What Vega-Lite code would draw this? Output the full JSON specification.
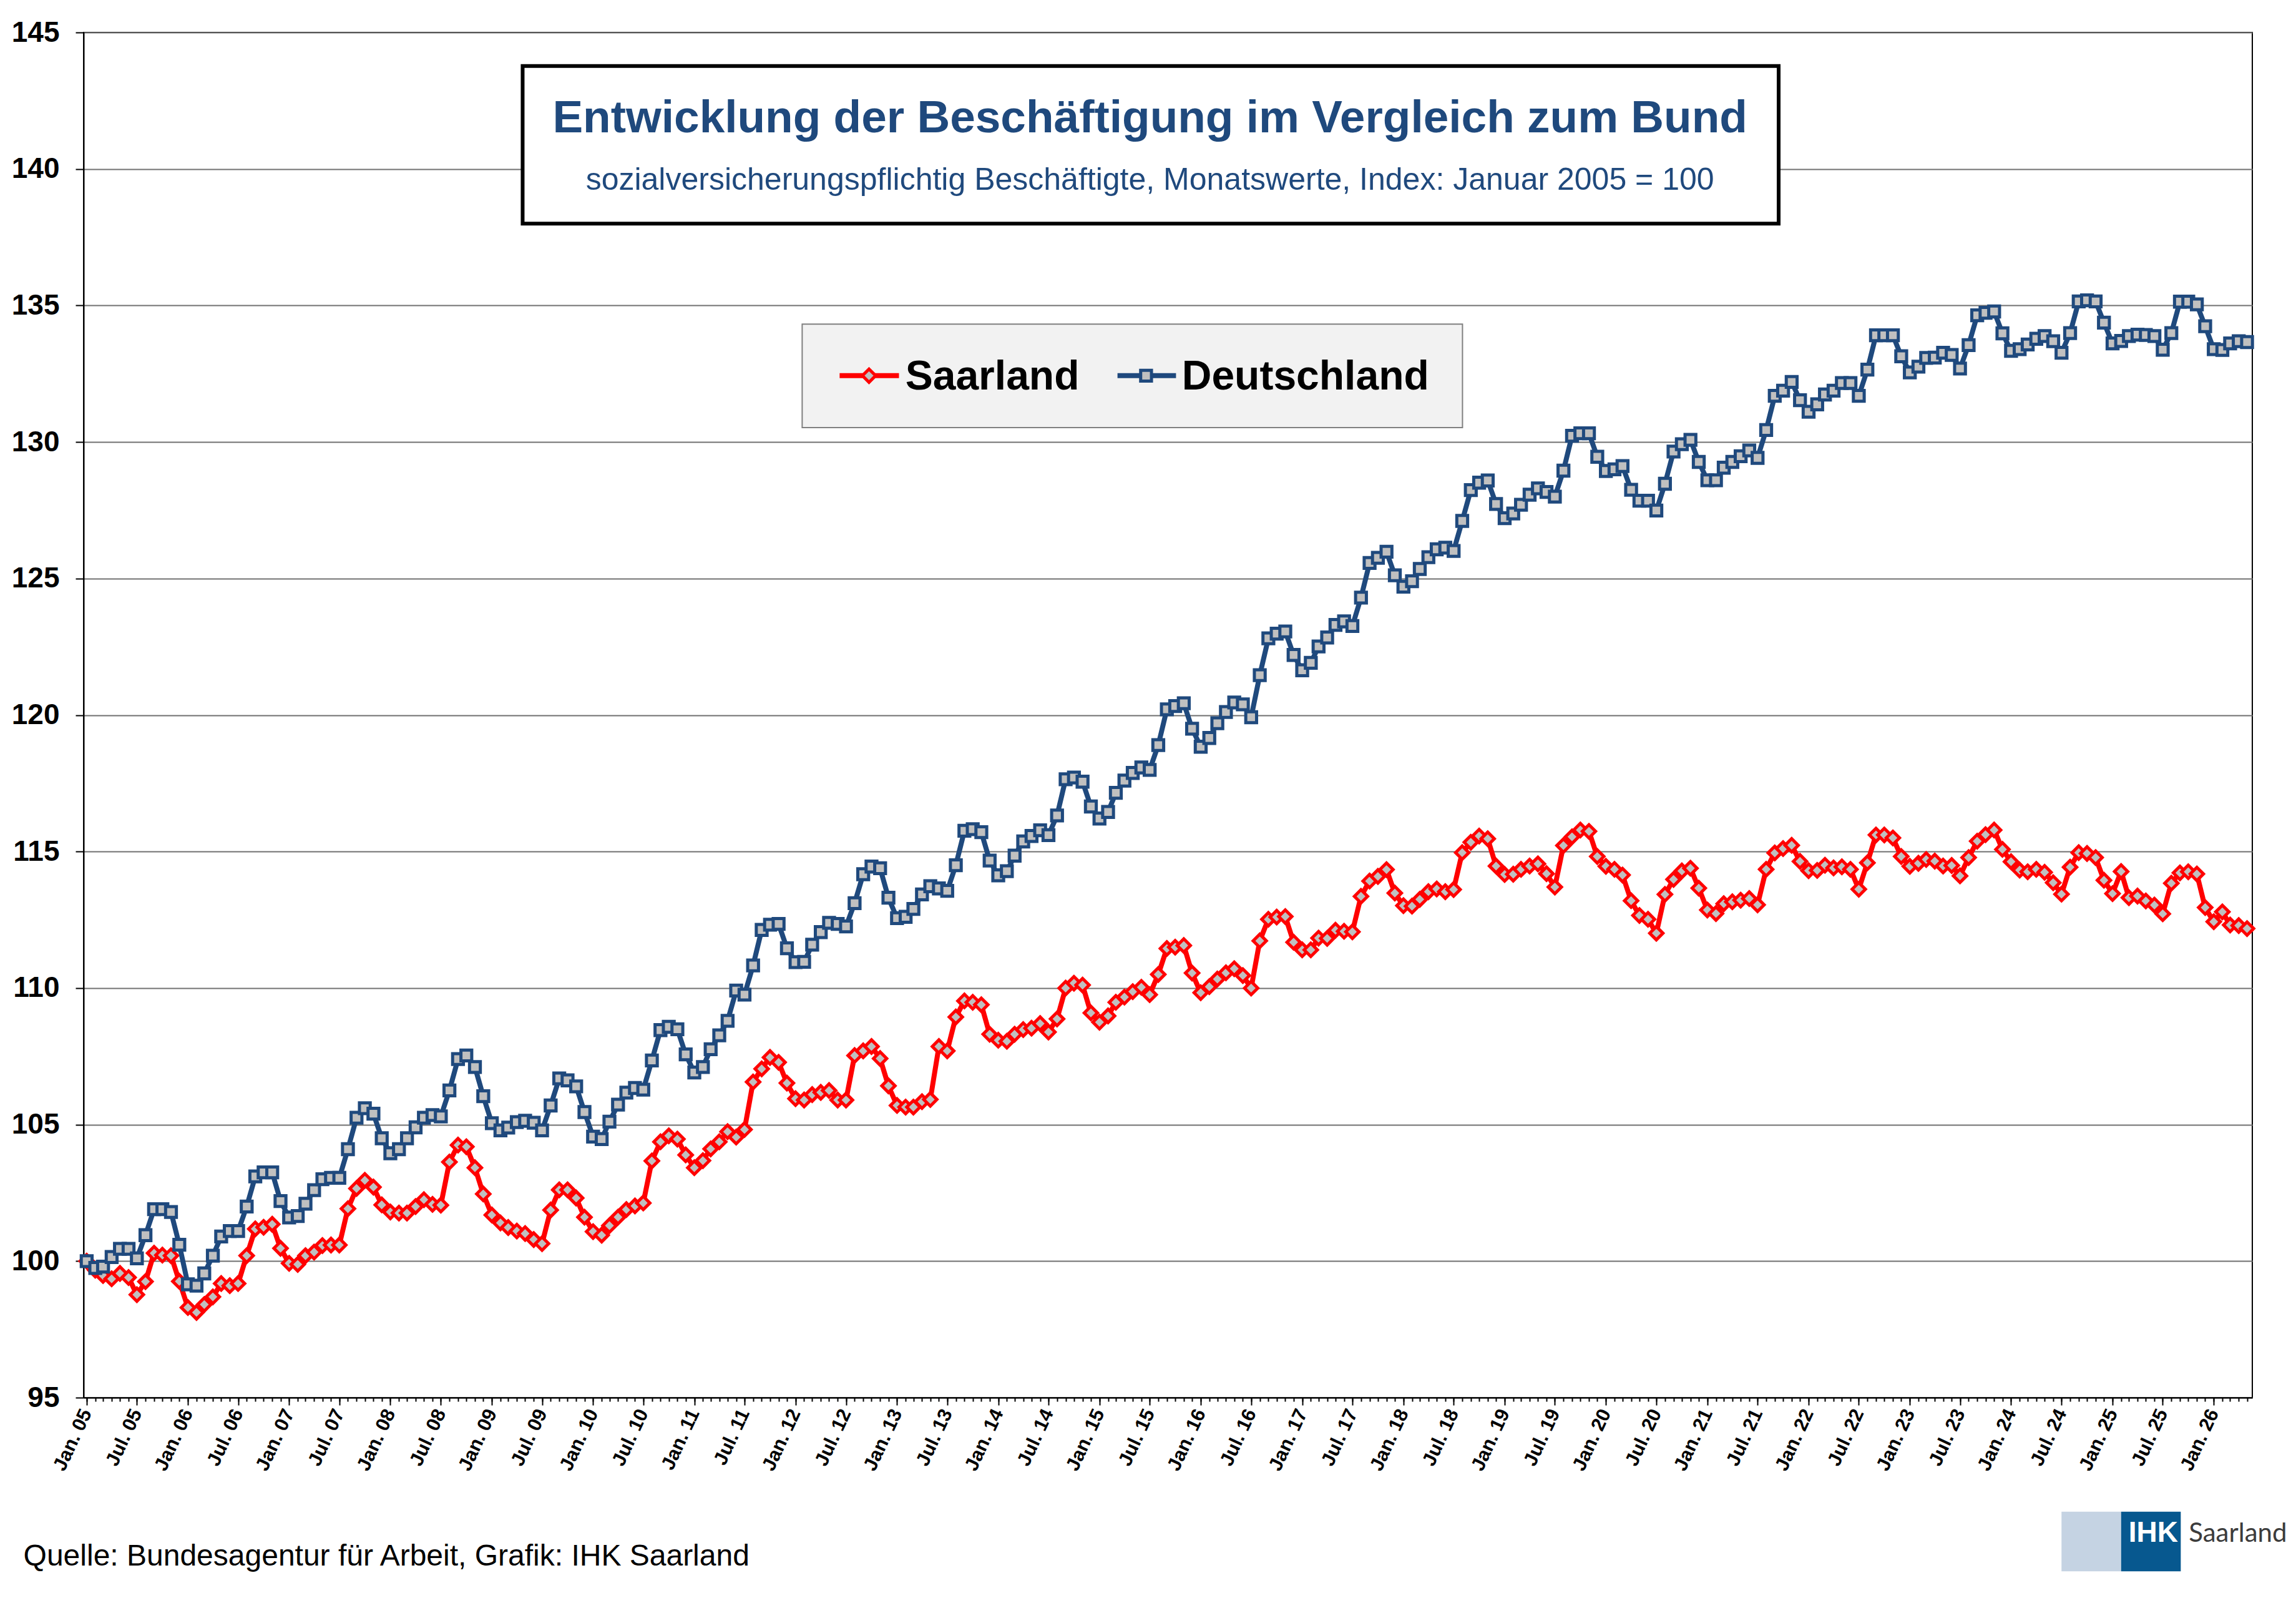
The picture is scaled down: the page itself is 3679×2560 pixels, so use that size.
{
  "$schema": "https://vega.github.io/schema/vega-lite/v6.json",
  "width": 3475,
  "height": 2187,
  "autosize": {"type": "none"},
  "padding": {"left": 134, "top": 52, "right": 70, "bottom": 321},
  "background": "white",
  "config": {
    "view": {"stroke": "#000", "strokeWidth": 2},
    "font": "Liberation Sans"
  },
  "layer": [
    {
      "data": {
        "format": {"parse": {"monat": "date:'%Y-%m'"}},
        "values": [
          {"monat": "2005-01", "index": 100.0}, {"monat": "2005-02", "index": 99.67}, {"monat": "2005-03", "index": 99.47}, {"monat": "2005-04", "index": 99.35}, {"monat": "2005-05", "index": 99.55}, {"monat": "2005-06", "index": 99.4}, {"monat": "2005-07", "index": 98.77}, {"monat": "2005-08", "index": 99.25}, {"monat": "2005-09", "index": 100.29}, {"monat": "2005-10", "index": 100.22}, {"monat": "2005-11", "index": 100.2}, {"monat": "2005-12", "index": 99.26},
          {"monat": "2006-01", "index": 98.3}, {"monat": "2006-02", "index": 98.12}, {"monat": "2006-03", "index": 98.41}, {"monat": "2006-04", "index": 98.69}, {"monat": "2006-05", "index": 99.18}, {"monat": "2006-06", "index": 99.1}, {"monat": "2006-07", "index": 99.18}, {"monat": "2006-08", "index": 100.2}, {"monat": "2006-09", "index": 101.18}, {"monat": "2006-10", "index": 101.24}, {"monat": "2006-11", "index": 101.35}, {"monat": "2006-12", "index": 100.47},
          {"monat": "2007-01", "index": 99.92}, {"monat": "2007-02", "index": 99.88}, {"monat": "2007-03", "index": 100.2}, {"monat": "2007-04", "index": 100.33}, {"monat": "2007-05", "index": 100.57}, {"monat": "2007-06", "index": 100.59}, {"monat": "2007-07", "index": 100.59}, {"monat": "2007-08", "index": 101.92}, {"monat": "2007-09", "index": 102.66}, {"monat": "2007-10", "index": 102.96}, {"monat": "2007-11", "index": 102.71}, {"monat": "2007-12", "index": 102.06},
          {"monat": "2008-01", "index": 101.8}, {"monat": "2008-02", "index": 101.76}, {"monat": "2008-03", "index": 101.76}, {"monat": "2008-04", "index": 102.0}, {"monat": "2008-05", "index": 102.25}, {"monat": "2008-06", "index": 102.08}, {"monat": "2008-07", "index": 102.05}, {"monat": "2008-08", "index": 103.63}, {"monat": "2008-09", "index": 104.25}, {"monat": "2008-10", "index": 104.19}, {"monat": "2008-11", "index": 103.42}, {"monat": "2008-12", "index": 102.46},
          {"monat": "2009-01", "index": 101.69}, {"monat": "2009-02", "index": 101.4}, {"monat": "2009-03", "index": 101.23}, {"monat": "2009-04", "index": 101.1}, {"monat": "2009-05", "index": 101.01}, {"monat": "2009-06", "index": 100.79}, {"monat": "2009-07", "index": 100.64}, {"monat": "2009-08", "index": 101.87}, {"monat": "2009-09", "index": 102.61}, {"monat": "2009-10", "index": 102.61}, {"monat": "2009-11", "index": 102.31}, {"monat": "2009-12", "index": 101.61},
          {"monat": "2010-01", "index": 101.08}, {"monat": "2010-02", "index": 100.95}, {"monat": "2010-03", "index": 101.3}, {"monat": "2010-04", "index": 101.61}, {"monat": "2010-05", "index": 101.89}, {"monat": "2010-06", "index": 102.02}, {"monat": "2010-07", "index": 102.13}, {"monat": "2010-08", "index": 103.67}, {"monat": "2010-09", "index": 104.37}, {"monat": "2010-10", "index": 104.59}, {"monat": "2010-11", "index": 104.47}, {"monat": "2010-12", "index": 103.89},
          {"monat": "2011-01", "index": 103.42}, {"monat": "2011-02", "index": 103.68}, {"monat": "2011-03", "index": 104.11}, {"monat": "2011-04", "index": 104.37}, {"monat": "2011-05", "index": 104.74}, {"monat": "2011-06", "index": 104.54}, {"monat": "2011-07", "index": 104.82}, {"monat": "2011-08", "index": 106.56}, {"monat": "2011-09", "index": 107.04}, {"monat": "2011-10", "index": 107.46}, {"monat": "2011-11", "index": 107.28}, {"monat": "2011-12", "index": 106.52},
          {"monat": "2012-01", "index": 105.95}, {"monat": "2012-02", "index": 105.9}, {"monat": "2012-03", "index": 106.1}, {"monat": "2012-04", "index": 106.18}, {"monat": "2012-05", "index": 106.25}, {"monat": "2012-06", "index": 105.9}, {"monat": "2012-07", "index": 105.9}, {"monat": "2012-08", "index": 107.53}, {"monat": "2012-09", "index": 107.7}, {"monat": "2012-10", "index": 107.86}, {"monat": "2012-11", "index": 107.42}, {"monat": "2012-12", "index": 106.42},
          {"monat": "2013-01", "index": 105.7}, {"monat": "2013-02", "index": 105.64}, {"monat": "2013-03", "index": 105.64}, {"monat": "2013-04", "index": 105.84}, {"monat": "2013-05", "index": 105.92}, {"monat": "2013-06", "index": 107.86}, {"monat": "2013-07", "index": 107.7}, {"monat": "2013-08", "index": 108.94}, {"monat": "2013-09", "index": 109.53}, {"monat": "2013-10", "index": 109.48}, {"monat": "2013-11", "index": 109.39}, {"monat": "2013-12", "index": 108.31},
          {"monat": "2014-01", "index": 108.09}, {"monat": "2014-02", "index": 108.05}, {"monat": "2014-03", "index": 108.31}, {"monat": "2014-04", "index": 108.48}, {"monat": "2014-05", "index": 108.53}, {"monat": "2014-06", "index": 108.7}, {"monat": "2014-07", "index": 108.39}, {"monat": "2014-08", "index": 108.87}, {"monat": "2014-09", "index": 110.0}, {"monat": "2014-10", "index": 110.18}, {"monat": "2014-11", "index": 110.11}, {"monat": "2014-12", "index": 109.09},
          {"monat": "2015-01", "index": 108.75}, {"monat": "2015-02", "index": 108.98}, {"monat": "2015-03", "index": 109.48}, {"monat": "2015-04", "index": 109.67}, {"monat": "2015-05", "index": 109.87}, {"monat": "2015-06", "index": 110.03}, {"monat": "2015-07", "index": 109.76}, {"monat": "2015-08", "index": 110.5}, {"monat": "2015-09", "index": 111.45}, {"monat": "2015-10", "index": 111.5}, {"monat": "2015-11", "index": 111.56}, {"monat": "2015-12", "index": 110.55},
          {"monat": "2016-01", "index": 109.83}, {"monat": "2016-02", "index": 110.05}, {"monat": "2016-03", "index": 110.33}, {"monat": "2016-04", "index": 110.56}, {"monat": "2016-05", "index": 110.71}, {"monat": "2016-06", "index": 110.46}, {"monat": "2016-07", "index": 110.0}, {"monat": "2016-08", "index": 111.73}, {"monat": "2016-09", "index": 112.52}, {"monat": "2016-10", "index": 112.6}, {"monat": "2016-11", "index": 112.62}, {"monat": "2016-12", "index": 111.68},
          {"monat": "2017-01", "index": 111.4}, {"monat": "2017-02", "index": 111.4}, {"monat": "2017-03", "index": 111.83}, {"monat": "2017-04", "index": 111.82}, {"monat": "2017-05", "index": 112.12}, {"monat": "2017-06", "index": 112.08}, {"monat": "2017-07", "index": 112.06}, {"monat": "2017-08", "index": 113.36}, {"monat": "2017-09", "index": 113.92}, {"monat": "2017-10", "index": 114.09}, {"monat": "2017-11", "index": 114.34}, {"monat": "2017-12", "index": 113.48},
          {"monat": "2018-01", "index": 113.02}, {"monat": "2018-02", "index": 113.0}, {"monat": "2018-03", "index": 113.25}, {"monat": "2018-04", "index": 113.53}, {"monat": "2018-05", "index": 113.63}, {"monat": "2018-06", "index": 113.53}, {"monat": "2018-07", "index": 113.61}, {"monat": "2018-08", "index": 114.96}, {"monat": "2018-09", "index": 115.34}, {"monat": "2018-10", "index": 115.57}, {"monat": "2018-11", "index": 115.47}, {"monat": "2018-12", "index": 114.47},
          {"monat": "2019-01", "index": 114.16}, {"monat": "2019-02", "index": 114.17}, {"monat": "2019-03", "index": 114.35}, {"monat": "2019-04", "index": 114.47}, {"monat": "2019-05", "index": 114.55}, {"monat": "2019-06", "index": 114.19}, {"monat": "2019-07", "index": 113.7}, {"monat": "2019-08", "index": 115.22}, {"monat": "2019-09", "index": 115.54}, {"monat": "2019-10", "index": 115.79}, {"monat": "2019-11", "index": 115.74}, {"monat": "2019-12", "index": 114.82},
          {"monat": "2020-01", "index": 114.46}, {"monat": "2020-02", "index": 114.35}, {"monat": "2020-03", "index": 114.14}, {"monat": "2020-04", "index": 113.2}, {"monat": "2020-05", "index": 112.66}, {"monat": "2020-06", "index": 112.52}, {"monat": "2020-07", "index": 112.01}, {"monat": "2020-08", "index": 113.43}, {"monat": "2020-09", "index": 113.98}, {"monat": "2020-10", "index": 114.29}, {"monat": "2020-11", "index": 114.39}, {"monat": "2020-12", "index": 113.66},
          {"monat": "2021-01", "index": 112.86}, {"monat": "2021-02", "index": 112.73}, {"monat": "2021-03", "index": 113.09}, {"monat": "2021-04", "index": 113.16}, {"monat": "2021-05", "index": 113.22}, {"monat": "2021-06", "index": 113.28}, {"monat": "2021-07", "index": 113.05}, {"monat": "2021-08", "index": 114.35}, {"monat": "2021-09", "index": 114.95}, {"monat": "2021-10", "index": 115.11}, {"monat": "2021-11", "index": 115.23}, {"monat": "2021-12", "index": 114.64},
          {"monat": "2022-01", "index": 114.3}, {"monat": "2022-02", "index": 114.31}, {"monat": "2022-03", "index": 114.5}, {"monat": "2022-04", "index": 114.4}, {"monat": "2022-05", "index": 114.44}, {"monat": "2022-06", "index": 114.35}, {"monat": "2022-07", "index": 113.62}, {"monat": "2022-08", "index": 114.59}, {"monat": "2022-09", "index": 115.61}, {"monat": "2022-10", "index": 115.61}, {"monat": "2022-11", "index": 115.5}, {"monat": "2022-12", "index": 114.82},
          {"monat": "2023-01", "index": 114.46}, {"monat": "2023-02", "index": 114.57}, {"monat": "2023-03", "index": 114.71}, {"monat": "2023-04", "index": 114.65}, {"monat": "2023-05", "index": 114.47}, {"monat": "2023-06", "index": 114.49}, {"monat": "2023-07", "index": 114.11}, {"monat": "2023-08", "index": 114.78}, {"monat": "2023-09", "index": 115.38}, {"monat": "2023-10", "index": 115.62}, {"monat": "2023-11", "index": 115.79}, {"monat": "2023-12", "index": 115.08},
          {"monat": "2024-01", "index": 114.63}, {"monat": "2024-02", "index": 114.32}, {"monat": "2024-03", "index": 114.26}, {"monat": "2024-04", "index": 114.35}, {"monat": "2024-05", "index": 114.24}, {"monat": "2024-06", "index": 113.86}, {"monat": "2024-07", "index": 113.44}, {"monat": "2024-08", "index": 114.43}, {"monat": "2024-09", "index": 114.96}, {"monat": "2024-10", "index": 114.93}, {"monat": "2024-11", "index": 114.78}, {"monat": "2024-12", "index": 113.95},
          {"monat": "2025-01", "index": 113.46}, {"monat": "2025-02", "index": 114.27}, {"monat": "2025-03", "index": 113.31}, {"monat": "2025-04", "index": 113.37}, {"monat": "2025-05", "index": 113.19}, {"monat": "2025-06", "index": 113.04}, {"monat": "2025-07", "index": 112.72}, {"monat": "2025-08", "index": 113.84}, {"monat": "2025-09", "index": 114.22}, {"monat": "2025-10", "index": 114.26}, {"monat": "2025-11", "index": 114.18}, {"monat": "2025-12", "index": 112.95},
          {"monat": "2026-01", "index": 112.43}, {"monat": "2026-02", "index": 112.79}, {"monat": "2026-03", "index": 112.31}, {"monat": "2026-04", "index": 112.29}, {"monat": "2026-05", "index": 112.18}
        ]
      },
      "layer": [
        {
          "mark": {"type": "line", "color": "#FF0000", "strokeWidth": 8},
          "encoding": {
            "x": {
              "field": "monat", "type": "temporal",
              "scale": {"domain": [{"year": 2004, "month": 12, "date": 21}, {"year": 2026, "month": 5, "date": 20}], "nice": false},
              "axis": {
                "orient": "bottom", "title": null, "grid": false,
                "tickCount": {"interval": "month", "step": 6},
                "labelExpr": "timeFormat(datum.value, '%b') + '. ' + timeFormat(datum.value, '%y')",
                "labelAngle": -65, "labelAlign": "right", "labelBaseline": "middle",
                "labelFont": "Liberation Sans", "labelFontWeight": "bold", "labelFontSize": 31, "labelColor": "#000",
                "labelPadding": 8, "labelOverlap": false, "labelFlush": false, "labelBound": false,
                "tickSize": 12, "tickColor": "#000", "tickWidth": 2,
                "domainColor": "#000", "domainWidth": 2
              }
            },
            "y": {
              "field": "index", "type": "quantitative",
              "scale": {"domain": [95, 145], "nice": false, "zero": false},
              "axis": {
                "title": null, "values": [95, 100, 105, 110, 115, 120, 125, 130, 135, 140, 145],
                "grid": true, "gridColor": "#707070", "gridWidth": 2,
                "labelFont": "Liberation Sans", "labelFontWeight": "bold", "labelFontSize": 46, "labelColor": "#000",
                "labelPadding": 26, "tickSize": 13, "tickColor": "#000", "tickWidth": 2,
                "domainColor": "#000", "domainWidth": 2
              }
            }
          }
        },
        {
          "mark": {"type": "point", "shape": "diamond", "filled": true, "fill": "#C0C0C0", "stroke": "#FF0000", "strokeWidth": 5, "size": 450, "opacity": 1},
          "encoding": {
            "x": {
              "field": "monat", "type": "temporal",
              "axis": {
                "orient": "bottom", "title": null, "grid": false, "labels": false, "domain": false,
                "tickCount": {"interval": "month", "step": 1},
                "tickSize": 6, "tickColor": "#000", "tickWidth": 2
              }
            },
            "y": {"field": "index", "type": "quantitative"}
          }
        }
      ],
      "resolve": {"axis": {"x": "independent"}}
    },
    {
      "data": {
        "format": {"parse": {"monat": "date:'%Y-%m'"}},
        "values": [
          {"monat": "2005-01", "index": 100.0}, {"monat": "2005-02", "index": 99.75}, {"monat": "2005-03", "index": 99.8}, {"monat": "2005-04", "index": 100.15}, {"monat": "2005-05", "index": 100.45}, {"monat": "2005-06", "index": 100.45}, {"monat": "2005-07", "index": 100.1}, {"monat": "2005-08", "index": 100.95}, {"monat": "2005-09", "index": 101.9}, {"monat": "2005-10", "index": 101.9}, {"monat": "2005-11", "index": 101.8}, {"monat": "2005-12", "index": 100.6},
          {"monat": "2006-01", "index": 99.15}, {"monat": "2006-02", "index": 99.1}, {"monat": "2006-03", "index": 99.55}, {"monat": "2006-04", "index": 100.2}, {"monat": "2006-05", "index": 100.9}, {"monat": "2006-06", "index": 101.1}, {"monat": "2006-07", "index": 101.1}, {"monat": "2006-08", "index": 102.0}, {"monat": "2006-09", "index": 103.1}, {"monat": "2006-10", "index": 103.25}, {"monat": "2006-11", "index": 103.25}, {"monat": "2006-12", "index": 102.2},
          {"monat": "2007-01", "index": 101.6}, {"monat": "2007-02", "index": 101.65}, {"monat": "2007-03", "index": 102.1}, {"monat": "2007-04", "index": 102.6}, {"monat": "2007-05", "index": 103.0}, {"monat": "2007-06", "index": 103.05}, {"monat": "2007-07", "index": 103.05}, {"monat": "2007-08", "index": 104.1}, {"monat": "2007-09", "index": 105.25}, {"monat": "2007-10", "index": 105.6}, {"monat": "2007-11", "index": 105.4}, {"monat": "2007-12", "index": 104.5},
          {"monat": "2008-01", "index": 103.95}, {"monat": "2008-02", "index": 104.1}, {"monat": "2008-03", "index": 104.5}, {"monat": "2008-04", "index": 104.9}, {"monat": "2008-05", "index": 105.25}, {"monat": "2008-06", "index": 105.35}, {"monat": "2008-07", "index": 105.3}, {"monat": "2008-08", "index": 106.25}, {"monat": "2008-09", "index": 107.4}, {"monat": "2008-10", "index": 107.53}, {"monat": "2008-11", "index": 107.11}, {"monat": "2008-12", "index": 106.04},
          {"monat": "2009-01", "index": 105.05}, {"monat": "2009-02", "index": 104.79}, {"monat": "2009-03", "index": 104.89}, {"monat": "2009-04", "index": 105.09}, {"monat": "2009-05", "index": 105.14}, {"monat": "2009-06", "index": 105.07}, {"monat": "2009-07", "index": 104.79}, {"monat": "2009-08", "index": 105.7}, {"monat": "2009-09", "index": 106.69}, {"monat": "2009-10", "index": 106.62}, {"monat": "2009-11", "index": 106.4}, {"monat": "2009-12", "index": 105.46},
          {"monat": "2010-01", "index": 104.56}, {"monat": "2010-02", "index": 104.47}, {"monat": "2010-03", "index": 105.11}, {"monat": "2010-04", "index": 105.73}, {"monat": "2010-05", "index": 106.17}, {"monat": "2010-06", "index": 106.34}, {"monat": "2010-07", "index": 106.28}, {"monat": "2010-08", "index": 107.35}, {"monat": "2010-09", "index": 108.46}, {"monat": "2010-10", "index": 108.58}, {"monat": "2010-11", "index": 108.49}, {"monat": "2010-12", "index": 107.57},
          {"monat": "2011-01", "index": 106.91}, {"monat": "2011-02", "index": 107.11}, {"monat": "2011-03", "index": 107.76}, {"monat": "2011-04", "index": 108.27}, {"monat": "2011-05", "index": 108.8}, {"monat": "2011-06", "index": 109.91}, {"monat": "2011-07", "index": 109.76}, {"monat": "2011-08", "index": 110.83}, {"monat": "2011-09", "index": 112.13}, {"monat": "2011-10", "index": 112.32}, {"monat": "2011-11", "index": 112.35}, {"monat": "2011-12", "index": 111.46},
          {"monat": "2012-01", "index": 110.95}, {"monat": "2012-02", "index": 110.96}, {"monat": "2012-03", "index": 111.59}, {"monat": "2012-04", "index": 112.05}, {"monat": "2012-05", "index": 112.39}, {"monat": "2012-06", "index": 112.35}, {"monat": "2012-07", "index": 112.26}, {"monat": "2012-08", "index": 113.11}, {"monat": "2012-09", "index": 114.17}, {"monat": "2012-10", "index": 114.45}, {"monat": "2012-11", "index": 114.39}, {"monat": "2012-12", "index": 113.31},
          {"monat": "2013-01", "index": 112.56}, {"monat": "2013-02", "index": 112.61}, {"monat": "2013-03", "index": 112.9}, {"monat": "2013-04", "index": 113.43}, {"monat": "2013-05", "index": 113.73}, {"monat": "2013-06", "index": 113.65}, {"monat": "2013-07", "index": 113.56}, {"monat": "2013-08", "index": 114.5}, {"monat": "2013-09", "index": 115.76}, {"monat": "2013-10", "index": 115.82}, {"monat": "2013-11", "index": 115.71}, {"monat": "2013-12", "index": 114.67},
          {"monat": "2014-01", "index": 114.13}, {"monat": "2014-02", "index": 114.28}, {"monat": "2014-03", "index": 114.85}, {"monat": "2014-04", "index": 115.37}, {"monat": "2014-05", "index": 115.57}, {"monat": "2014-06", "index": 115.78}, {"monat": "2014-07", "index": 115.6}, {"monat": "2014-08", "index": 116.32}, {"monat": "2014-09", "index": 117.65}, {"monat": "2014-10", "index": 117.71}, {"monat": "2014-11", "index": 117.56}, {"monat": "2014-12", "index": 116.65},
          {"monat": "2015-01", "index": 116.21}, {"monat": "2015-02", "index": 116.45}, {"monat": "2015-03", "index": 117.15}, {"monat": "2015-04", "index": 117.6}, {"monat": "2015-05", "index": 117.88}, {"monat": "2015-06", "index": 118.08}, {"monat": "2015-07", "index": 117.99}, {"monat": "2015-08", "index": 118.9}, {"monat": "2015-09", "index": 120.21}, {"monat": "2015-10", "index": 120.33}, {"monat": "2015-11", "index": 120.43}, {"monat": "2015-12", "index": 119.5},
          {"monat": "2016-01", "index": 118.84}, {"monat": "2016-02", "index": 119.16}, {"monat": "2016-03", "index": 119.7}, {"monat": "2016-04", "index": 120.11}, {"monat": "2016-05", "index": 120.46}, {"monat": "2016-06", "index": 120.39}, {"monat": "2016-07", "index": 119.92}, {"monat": "2016-08", "index": 121.46}, {"monat": "2016-09", "index": 122.81}, {"monat": "2016-10", "index": 122.98}, {"monat": "2016-11", "index": 123.06}, {"monat": "2016-12", "index": 122.2},
          {"monat": "2017-01", "index": 121.64}, {"monat": "2017-02", "index": 121.91}, {"monat": "2017-03", "index": 122.51}, {"monat": "2017-04", "index": 122.84}, {"monat": "2017-05", "index": 123.3}, {"monat": "2017-06", "index": 123.43}, {"monat": "2017-07", "index": 123.26}, {"monat": "2017-08", "index": 124.3}, {"monat": "2017-09", "index": 125.57}, {"monat": "2017-10", "index": 125.76}, {"monat": "2017-11", "index": 125.98}, {"monat": "2017-12", "index": 125.12},
          {"monat": "2018-01", "index": 124.7}, {"monat": "2018-02", "index": 124.9}, {"monat": "2018-03", "index": 125.35}, {"monat": "2018-04", "index": 125.78}, {"monat": "2018-05", "index": 126.07}, {"monat": "2018-06", "index": 126.13}, {"monat": "2018-07", "index": 126.01}, {"monat": "2018-08", "index": 127.11}, {"monat": "2018-09", "index": 128.24}, {"monat": "2018-10", "index": 128.51}, {"monat": "2018-11", "index": 128.59}, {"monat": "2018-12", "index": 127.73},
          {"monat": "2019-01", "index": 127.21}, {"monat": "2019-02", "index": 127.38}, {"monat": "2019-03", "index": 127.7}, {"monat": "2019-04", "index": 128.07}, {"monat": "2019-05", "index": 128.3}, {"monat": "2019-06", "index": 128.17}, {"monat": "2019-07", "index": 128.0}, {"monat": "2019-08", "index": 128.95}, {"monat": "2019-09", "index": 130.23}, {"monat": "2019-10", "index": 130.32}, {"monat": "2019-11", "index": 130.32}, {"monat": "2019-12", "index": 129.46},
          {"monat": "2020-01", "index": 128.94}, {"monat": "2020-02", "index": 129.0}, {"monat": "2020-03", "index": 129.12}, {"monat": "2020-04", "index": 128.25}, {"monat": "2020-05", "index": 127.85}, {"monat": "2020-06", "index": 127.85}, {"monat": "2020-07", "index": 127.49}, {"monat": "2020-08", "index": 128.47}, {"monat": "2020-09", "index": 129.65}, {"monat": "2020-10", "index": 129.92}, {"monat": "2020-11", "index": 130.08}, {"monat": "2020-12", "index": 129.27},
          {"monat": "2021-01", "index": 128.6}, {"monat": "2021-02", "index": 128.6}, {"monat": "2021-03", "index": 129.06}, {"monat": "2021-04", "index": 129.27}, {"monat": "2021-05", "index": 129.48}, {"monat": "2021-06", "index": 129.69}, {"monat": "2021-07", "index": 129.42}, {"monat": "2021-08", "index": 130.44}, {"monat": "2021-09", "index": 131.69}, {"monat": "2021-10", "index": 131.88}, {"monat": "2021-11", "index": 132.2}, {"monat": "2021-12", "index": 131.53},
          {"monat": "2022-01", "index": 131.11}, {"monat": "2022-02", "index": 131.38}, {"monat": "2022-03", "index": 131.74}, {"monat": "2022-04", "index": 131.88}, {"monat": "2022-05", "index": 132.16}, {"monat": "2022-06", "index": 132.16}, {"monat": "2022-07", "index": 131.69}, {"monat": "2022-08", "index": 132.65}, {"monat": "2022-09", "index": 133.91}, {"monat": "2022-10", "index": 133.91}, {"monat": "2022-11", "index": 133.91}, {"monat": "2022-12", "index": 133.14},
          {"monat": "2023-01", "index": 132.55}, {"monat": "2023-02", "index": 132.76}, {"monat": "2023-03", "index": 133.08}, {"monat": "2023-04", "index": 133.09}, {"monat": "2023-05", "index": 133.27}, {"monat": "2023-06", "index": 133.19}, {"monat": "2023-07", "index": 132.69}, {"monat": "2023-08", "index": 133.55}, {"monat": "2023-09", "index": 134.64}, {"monat": "2023-10", "index": 134.73}, {"monat": "2023-11", "index": 134.78}, {"monat": "2023-12", "index": 133.98},
          {"monat": "2024-01", "index": 133.34}, {"monat": "2024-02", "index": 133.4}, {"monat": "2024-03", "index": 133.57}, {"monat": "2024-04", "index": 133.78}, {"monat": "2024-05", "index": 133.88}, {"monat": "2024-06", "index": 133.69}, {"monat": "2024-07", "index": 133.27}, {"monat": "2024-08", "index": 133.99}, {"monat": "2024-09", "index": 135.15}, {"monat": "2024-10", "index": 135.19}, {"monat": "2024-11", "index": 135.15}, {"monat": "2024-12", "index": 134.37},
          {"monat": "2025-01", "index": 133.61}, {"monat": "2025-02", "index": 133.7}, {"monat": "2025-03", "index": 133.88}, {"monat": "2025-04", "index": 133.93}, {"monat": "2025-05", "index": 133.92}, {"monat": "2025-06", "index": 133.88}, {"monat": "2025-07", "index": 133.38}, {"monat": "2025-08", "index": 133.99}, {"monat": "2025-09", "index": 135.14}, {"monat": "2025-10", "index": 135.14}, {"monat": "2025-11", "index": 135.04}, {"monat": "2025-12", "index": 134.24},
          {"monat": "2026-01", "index": 133.4}, {"monat": "2026-02", "index": 133.37}, {"monat": "2026-03", "index": 133.61}, {"monat": "2026-04", "index": 133.69}, {"monat": "2026-05", "index": 133.66}
        ]
      },
      "layer": [
        {
          "mark": {"type": "line", "color": "#1F497D", "strokeWidth": 8},
          "encoding": {
            "x": {"field": "monat", "type": "temporal", "axis": null},
            "y": {"field": "index", "type": "quantitative"}
          }
        },
        {
          "mark": {"type": "point", "shape": "square", "filled": true, "fill": "#C0C0C0", "stroke": "#1F497D", "strokeWidth": 5, "size": 300, "opacity": 1},
          "encoding": {
            "x": {"field": "monat", "type": "temporal", "axis": null},
            "y": {"field": "index", "type": "quantitative"}
          }
        }
      ]
    },
    {
      "data": {"values": [{}]},
      "mark": {"type": "rect", "fill": "#FFFFFF", "stroke": "#000", "strokeWidth": 6},
      "encoding": {
        "x": {"datum": {"year": 2009, "month": 4, "date": 22}, "type": "temporal", "axis": null},
        "x2": {"datum": {"year": 2021, "month": 9, "date": 15}},
        "y": {"datum": 143.77, "type": "quantitative"},
        "y2": {"datum": 138.0}
      }
    },
    {
      "data": {"values": [{}]},
      "mark": {"type": "text", "text": "Entwicklung der Beschäftigung im Vergleich zum Bund", "font": "Liberation Sans", "fontWeight": "bold", "fontSize": 73, "fill": "#1F497D", "align": "center", "baseline": "alphabetic"},
      "encoding": {
        "x": {"datum": {"year": 2015, "month": 7, "date": 2}, "type": "temporal", "axis": null},
        "y": {"datum": 141.34, "type": "quantitative"}
      }
    },
    {
      "data": {"values": [{}]},
      "mark": {"type": "text", "text": "sozialversicherungspflichtig Beschäftigte, Monatswerte, Index: Januar 2005 = 100", "font": "Liberation Sans", "fontSize": 50, "fill": "#1F497D", "align": "center", "baseline": "alphabetic"},
      "encoding": {
        "x": {"datum": {"year": 2015, "month": 7, "date": 2}, "type": "temporal", "axis": null},
        "y": {"datum": 139.25, "type": "quantitative"}
      }
    },
    {
      "data": {"values": [{}]},
      "mark": {"type": "rect", "fill": "#F2F2F2", "stroke": "#7F7F7F", "strokeWidth": 2},
      "encoding": {
        "x": {"datum": {"year": 2012, "month": 1, "date": 25}, "type": "temporal", "axis": null},
        "x2": {"datum": {"year": 2018, "month": 8, "date": 2}},
        "y": {"datum": 134.32, "type": "quantitative"},
        "y2": {"datum": 130.53}
      }
    },
    {
      "data": {"values": [{}]},
      "mark": {"type": "rule", "color": "#FF0000", "strokeWidth": 8},
      "encoding": {
        "x": {"datum": {"year": 2012, "month": 6, "date": 8}, "type": "temporal", "axis": null},
        "x2": {"datum": {"year": 2013, "month": 1, "date": 8}},
        "y": {"datum": 132.43, "type": "quantitative"}
      }
    },
    {
      "data": {"values": [{}]},
      "mark": {"type": "point", "shape": "diamond", "filled": true, "fill": "#C0C0C0", "stroke": "#FF0000", "strokeWidth": 5, "size": 450, "opacity": 1},
      "encoding": {
        "x": {"datum": {"year": 2012, "month": 9, "date": 22}, "type": "temporal", "axis": null},
        "y": {"datum": 132.43, "type": "quantitative"}
      }
    },
    {
      "data": {"values": [{}]},
      "mark": {"type": "text", "text": "Saarland", "font": "Liberation Sans", "fontWeight": "bold", "fontSize": 66, "fill": "#000", "align": "left", "baseline": "alphabetic"},
      "encoding": {
        "x": {"datum": {"year": 2013, "month": 1, "date": 31}, "type": "temporal", "axis": null},
        "y": {"datum": 131.92, "type": "quantitative"}
      }
    },
    {
      "data": {"values": [{}]},
      "mark": {"type": "rule", "color": "#1F497D", "strokeWidth": 8},
      "encoding": {
        "x": {"datum": {"year": 2015, "month": 3, "date": 7}, "type": "temporal", "axis": null},
        "x2": {"datum": {"year": 2015, "month": 10, "date": 4}},
        "y": {"datum": 132.43, "type": "quantitative"}
      }
    },
    {
      "data": {"values": [{}]},
      "mark": {"type": "point", "shape": "square", "filled": true, "fill": "#C0C0C0", "stroke": "#1F497D", "strokeWidth": 5, "size": 300, "opacity": 1},
      "encoding": {
        "x": {"datum": {"year": 2015, "month": 6, "date": 18}, "type": "temporal", "axis": null},
        "y": {"datum": 132.43, "type": "quantitative"}
      }
    },
    {
      "data": {"values": [{}]},
      "mark": {"type": "text", "text": "Deutschland", "font": "Liberation Sans", "fontWeight": "bold", "fontSize": 66, "fill": "#000", "align": "left", "baseline": "alphabetic"},
      "encoding": {
        "x": {"datum": {"year": 2015, "month": 10, "date": 25}, "type": "temporal", "axis": null},
        "y": {"datum": 131.92, "type": "quantitative"}
      }
    },
    {
      "data": {"values": [{}]},
      "mark": {"type": "text", "text": "Quelle: Bundesagentur für Arbeit, Grafik: IHK Saarland", "font": "Liberation Sans", "fontSize": 48, "fill": "#000", "align": "left", "baseline": "alphabetic"},
      "encoding": {
        "x": {"datum": {"year": 2004, "month": 5, "date": 18}, "type": "temporal", "axis": null},
        "y": {"datum": 88.85, "type": "quantitative"}
      }
    },
    {
      "data": {"values": [{}]},
      "mark": {"type": "rect", "fill": "#C5D3E3"},
      "encoding": {
        "x": {"datum": {"year": 2024, "month": 7, "date": 1}, "type": "temporal", "axis": null},
        "x2": {"datum": {"year": 2025, "month": 2, "date": 1}},
        "y": {"datum": 90.82, "type": "quantitative"},
        "y2": {"datum": 88.64}
      }
    },
    {
      "data": {"values": [{}]},
      "mark": {"type": "rect", "fill": "#07588F"},
      "encoding": {
        "x": {"datum": {"year": 2025, "month": 2, "date": 1}, "type": "temporal", "axis": null},
        "x2": {"datum": {"year": 2025, "month": 9, "date": 4}},
        "y": {"datum": 90.82, "type": "quantitative"},
        "y2": {"datum": 88.64}
      }
    },
    {
      "data": {"values": [{}]},
      "mark": {"type": "text", "text": "IHK", "font": "Liberation Sans", "fontWeight": "bold", "fontSize": 46, "fill": "#FFFFFF", "align": "center", "baseline": "alphabetic"},
      "encoding": {
        "x": {"datum": {"year": 2025, "month": 5, "date": 28}, "type": "temporal", "axis": null},
        "y": {"datum": 89.72, "type": "quantitative"}
      }
    },
    {
      "data": {"values": [{}]},
      "mark": {"type": "text", "text": "Saarland", "font": "Lato", "fontSize": 42, "fill": "#3C3C3C", "align": "left", "baseline": "alphabetic"},
      "encoding": {
        "x": {"datum": {"year": 2025, "month": 10, "date": 3}, "type": "temporal", "axis": null},
        "y": {"datum": 89.72, "type": "quantitative"}
      }
    }
  ],
  "resolve": {"axis": {"x": "independent"}}
}
